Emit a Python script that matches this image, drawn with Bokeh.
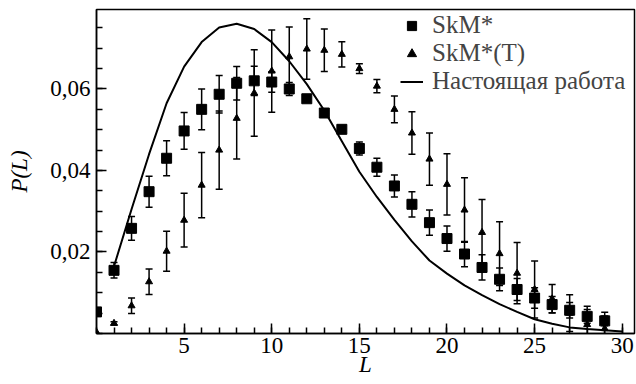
from bokeh.plotting import figure
from bokeh.models import ColumnDataSource, Whisker, TeeHead, FixedTicker, CustomJSTickFormatter, Legend, LegendItem
from bokeh.embed import file_html
from bokeh.resources import INLINE

L = list(range(0, 30))
skm = [0.0053, 0.0155, 0.0258, 0.0348, 0.0430, 0.0497, 0.0550, 0.0587, 0.0614, 0.0620,
       0.0617, 0.0600, 0.0576, 0.0541, 0.0501, 0.0454, 0.0408, 0.0362, 0.0317, 0.0272,
       0.0233, 0.0195, 0.0162, 0.0133, 0.0108, 0.0087, 0.0071, 0.0057, 0.0042, 0.0031]
skm_err = [0.0, 0.0019, 0.0029, 0.0038, 0.0043, 0.0045, 0.0050, 0.0046, 0.0041, 0.0036,
           0.0025, 0.0016, 0.0, 0.0, 0.0, 0.0016, 0.0022, 0.0027, 0.0031, 0.0031,
           0.0031, 0.0031, 0.0031, 0.0028, 0.0027, 0.0025, 0.0020, 0.0019, 0.0017, 0.0012]
skmt = [0.0003, 0.0025, 0.0068, 0.0127, 0.0202, 0.0278, 0.0364, 0.0450, 0.0528, 0.0590,
        0.0644, 0.0679, 0.0698, 0.0695, 0.0685, 0.0650, 0.0607, 0.0550, 0.0492, 0.0428,
        0.0366, 0.0303, 0.0248, 0.0196, 0.0148, 0.0108, 0.0085, 0.0050, 0.0022, 0.0012]
skmt_err = [0.0, 0.0004, 0.0019, 0.0031, 0.0049, 0.0066, 0.0080, 0.0096, 0.0100, 0.0106,
            0.0101, 0.0073, 0.0074, 0.0052, 0.0031, 0.0012, 0.0016, 0.0033, 0.0052, 0.0064,
            0.0075, 0.0079, 0.0081, 0.0078, 0.0075, 0.0070, 0.0035, 0.0045, 0.0045, 0.0040]
L_line = list(range(1, 31))
line_vals = [0.0165, 0.0305, 0.0440, 0.0565, 0.0655, 0.0715, 0.0751, 0.0760, 0.0747, 0.0715,
             0.0668, 0.0612, 0.0547, 0.0472, 0.0397, 0.0335, 0.0279, 0.0226, 0.0179, 0.0147,
             0.0118, 0.0094, 0.0072, 0.0053, 0.0035, 0.0024, 0.0015, 0.0011, 0.0008, 0.0005]

x_ticks = [5, 10, 15, 20, 25, 30]
y_ticks = [0.02, 0.04, 0.06]

FONT = "'Liberation Serif'"

p = figure(width=636, height=384, x_range=(0, 30.7), y_range=(0, 0.0795),
           output_backend="svg", toolbar_location=None,
           min_border_left=96, min_border_right=2, min_border_top=9, min_border_bottom=51)
p.grid.visible = False
p.outline_line_color = "black"
p.outline_line_width = 1.5
p.background_fill_color = "white"

def add_whiskers(xs, ys, errs):
    xx, up, lo = [], [], []
    for x, y, e in zip(xs, ys, errs):
        if e > 0:
            xx.append(x); up.append(y + e); lo.append(y - e)
    src = ColumnDataSource(dict(x=xx, upper=up, lower=lo))
    w = Whisker(source=src, base="x", upper="upper", lower="lower",
                line_color="black", line_width=1.5,
                upper_head=TeeHead(size=7, line_color="black", line_width=1.5),
                lower_head=TeeHead(size=7, line_color="black", line_width=1.5))
    p.add_layout(w)

add_whiskers(L, skm, skm_err)
add_whiskers(L, skmt, skmt_err)

r_sq = p.scatter(L, skm, marker="square", size=10, color="black")
r_tr = p.scatter(L, skmt, marker="triangle", size=7, color="black")
r_ln = p.line(L_line, line_vals, line_color="black", line_width=2)

legend = Legend(items=[LegendItem(label="SkM*", renderers=[r_sq]),
                       LegendItem(label="SkM*(T)", renderers=[r_tr]),
                       LegendItem(label="Настоящая работа", renderers=[r_ln])],
                location=(304, 238), border_line_color=None, background_fill_alpha=0,
                label_text_font=FONT, label_text_font_size="25px",
                glyph_width=23, glyph_height=27, label_height=27,
                label_standoff=9, spacing=0, padding=0, margin=0)
p.add_layout(legend)

for ax in (p.xaxis[0], p.yaxis[0]):
    ax.axis_line_color = "black"
    ax.axis_line_width = 1.5
    ax.major_tick_line_color = "black"
    ax.minor_tick_line_color = "black"
    ax.major_tick_line_width = 1.5
    ax.minor_tick_line_width = 1.5
    ax.major_tick_in = 10
    ax.major_tick_out = 0
    ax.minor_tick_in = 6
    ax.minor_tick_out = 0
    ax.major_label_text_font = FONT
    ax.major_label_text_font_size = "23px"
    ax.major_label_text_color = "black"
    ax.axis_label_text_font = FONT
    ax.axis_label_text_font_size = "23px"
    ax.axis_label_text_font_style = "italic"
    ax.axis_label_text_color = "black"

p.xaxis.ticker = FixedTicker(ticks=x_ticks, minor_ticks=list(range(0, 31)))
p.yaxis.ticker = FixedTicker(ticks=y_ticks, minor_ticks=[0.005 * i for i in range(16)])
p.yaxis.formatter = CustomJSTickFormatter(code="return tick.toFixed(2).replace('.', ',');")
p.xaxis.axis_label = "L"
p.yaxis.axis_label = "P(L)"
p.xaxis.major_label_standoff = 4
p.xaxis.axis_label_standoff = -4
p.yaxis.major_label_standoff = 6
p.yaxis.axis_label_standoff = 15

open("out.html", "w").write(file_html(p, INLINE))
